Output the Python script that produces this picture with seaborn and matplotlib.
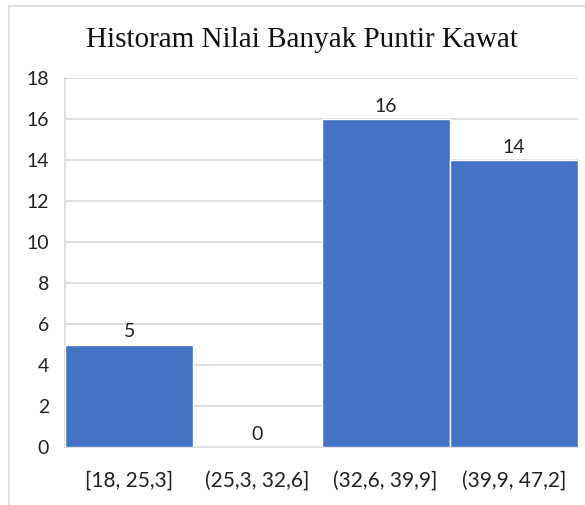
import matplotlib
matplotlib.use("Agg")
import matplotlib.pyplot as plt
import seaborn as sns
import pandas as pd
from matplotlib.patches import Rectangle

categories = ["[18, 25,3]", "(25,3, 32,6]", "(32,6, 39,9]", "(39,9, 47,2]"]
counts = [5, 0, 16, 14]
yticks = [0, 2, 4, 6, 8, 10, 12, 14, 16, 18]
title = "Historam Nilai Banyak Puntir Kawat"

sns.set_theme(style="white")
plt.rcParams['font.family'] = ['Lato', 'DejaVu Sans']

W, H = 585, 505
fig = plt.figure(figsize=(W / 100, H / 100), dpi=100)
ax = fig.add_axes([65 / W, 1 - 447 / H, (578 - 65) / W, (447 - 78) / H])

df = pd.DataFrame({"cat": categories, "count": counts})
sns.barplot(data=df, x="cat", y="count", color="#4472C4", saturation=1,
            width=1.0, edgecolor="white", linewidth=1.0, ax=ax, zorder=3)

ax.set_ylim(0, 18)
ax.set_xlim(-0.5, 3.5)
ax.set_yticks(yticks)
ax.yaxis.grid(True, color="#D9D9D9", linewidth=1.2, zorder=0)
ax.set_axisbelow(True)
ax.set_xlabel("")
ax.set_ylabel("")
for s in ["top", "right"]:
    ax.spines[s].set_visible(False)
for s in ["left", "bottom"]:
    ax.spines[s].set_color("#D9D9D9")
    ax.spines[s].set_linewidth(1.2)
ax.tick_params(axis="y", length=0, pad=11.5, labelsize=14, labelcolor="#222222")
ax.tick_params(axis="x", length=0, pad=17, labelsize=15, labelcolor="#222222")

for c in ax.containers:
    ax.bar_label(c, labels=[str(v) for v in counts], padding=3, fontsize=14, color="#222222")

fig.text(301.5 / W, 1 - 47 / H, title, ha="center", va="baseline",
         fontsize=21, family=["Liberation Serif", "DejaVu Serif"], color="#111111")

fig.patches.append(Rectangle((9 / W, -0.1), 1.2, 1 - 6 / H + 0.1,
                             transform=fig.transFigure, fill=False,
                             edgecolor="#D9D9D9", linewidth=1.2))

fig.savefig("out.png", dpi=100, facecolor="white")
